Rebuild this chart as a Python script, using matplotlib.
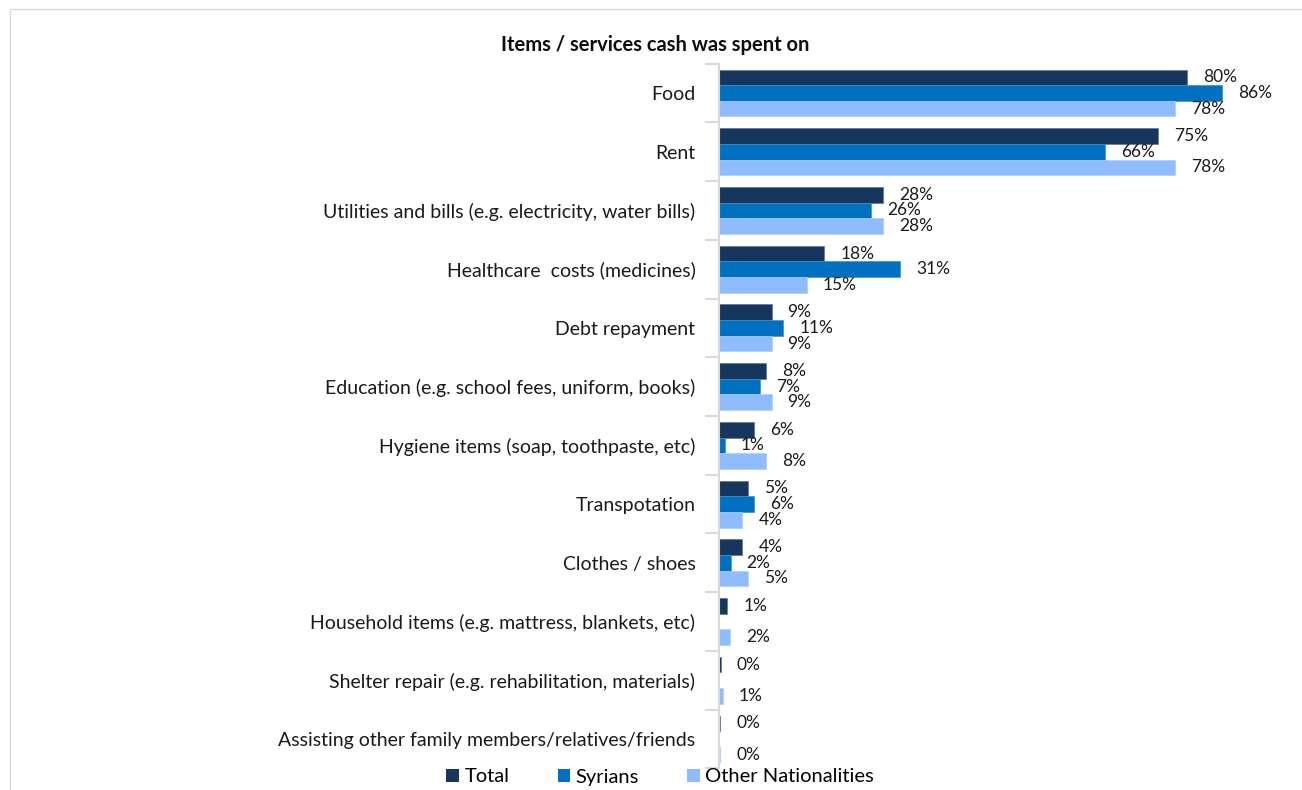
import matplotlib
matplotlib.use("Agg")
import matplotlib.pyplot as plt
import numpy as np
from matplotlib.patches import Patch, Rectangle

categories = [
    "Food",
    "Rent",
    "Utilities and bills (e.g. electricity, water bills)",
    "Healthcare  costs (medicines)",
    "Debt repayment",
    "Education (e.g. school fees, uniform, books)",
    "Hygiene items (soap, toothpaste, etc)",
    "Transpotation",
    "Clothes / shoes",
    "Household items (e.g. mattress, blankets, etc)",
    "Shelter repair (e.g. rehabilitation, materials)",
    "Assisting other family members/relatives/friends",
]
total = [80, 75, 28, 18, 9, 8, 6, 5, 4, 1.4, 0.3, 0.2]
syrians = [86, 66, 26, 31, 11, 7, 1, 6, 2, None, None, None]
other_nat = [78, 78, 28, 15, 9, 9, 8, 4, 5, 1.9, 0.7, 0.2]

series_names = ["Total", "Syrians", "Other Nationalities"]
colors = ["#17365D", "#0070C0", "#8EBCFF"]
edges = ["#5f7596", "#3f8fcc", "#a9ccff"]

W, H = 1302, 790
fig = plt.figure(figsize=(W / 100, H / 100), dpi=100)

# outer chart frame
fig.patches.append(Rectangle((10 / W, -0.05), 1.0, 1 - 9 / H + 0.05,
                             transform=fig.transFigure, fill=False,
                             ec="#d9d9d9", lw=1.0))

ax_left = 719 / W
ax_top = 63.6 / H
ax_bot = 768.4 / H
xmax = 97
ax = fig.add_axes([ax_left, 1 - ax_bot, xmax * 5.85 / W, ax_bot - ax_top])

n = len(categories)
y = np.arange(n)
h = 0.266
offsets = [-h, 0, h]
series = [total, syrians, other_nat]

for vals, off, c, ec in zip(series, offsets, colors, edges):
    vv = np.array([np.nan if v is None else v for v in vals], dtype=float)
    ax.barh(y + off, np.nan_to_num(vv), height=h, color=c,
            edgecolor=ec, linewidth=0.5)
    for yi, v in zip(y, vv):
        if np.isnan(v):
            continue
        ax.annotate(f"{v:.0f}%", xy=(v, yi + off), xytext=(11.5, 0),
                    textcoords="offset points", ha="left", va="center",
                    fontsize=12.5, family="Lato", color="#1a1a1a")

ax.set_xlim(0, xmax)
ax.set_ylim(n - 0.5, -0.5)

for s in ["top", "right", "bottom"]:
    ax.spines[s].set_visible(False)
ax.spines["left"].set_color("#d9d9d9")
ax.spines["left"].set_linewidth(1.5)

ax.set_xticks([])
ax.set_yticks(y)
ax.set_yticklabels(categories, fontsize=14, family="Lato", color="#1a1a1a")
ax.tick_params(axis="y", which="major", length=0, pad=17)
ax.set_yticks(np.arange(-0.5, n, 1.0), minor=True)
ax.tick_params(axis="y", which="minor", length=10, width=1.5,
               color="#d9d9d9")

fig.text(0.503, 1 - 45 / H, "Items / services cash was spent on",
         ha="center", va="center", fontsize=14.5, fontweight="bold",
         family="Lato", color="#0d0d0d")

handles = [Patch(facecolor=c, edgecolor="none") for c in colors]
fig.legend(handles, series_names, loc="center",
           bbox_to_anchor=(0.507, 1 - 777 / H), ncol=3, frameon=False,
           prop={"family": "Lato", "size": 14.5}, handlelength=0.64,
           handleheight=0.64, handletextpad=0.25, columnspacing=2.4,
           borderaxespad=0, borderpad=0)

fig.savefig("out.png", dpi=100)
